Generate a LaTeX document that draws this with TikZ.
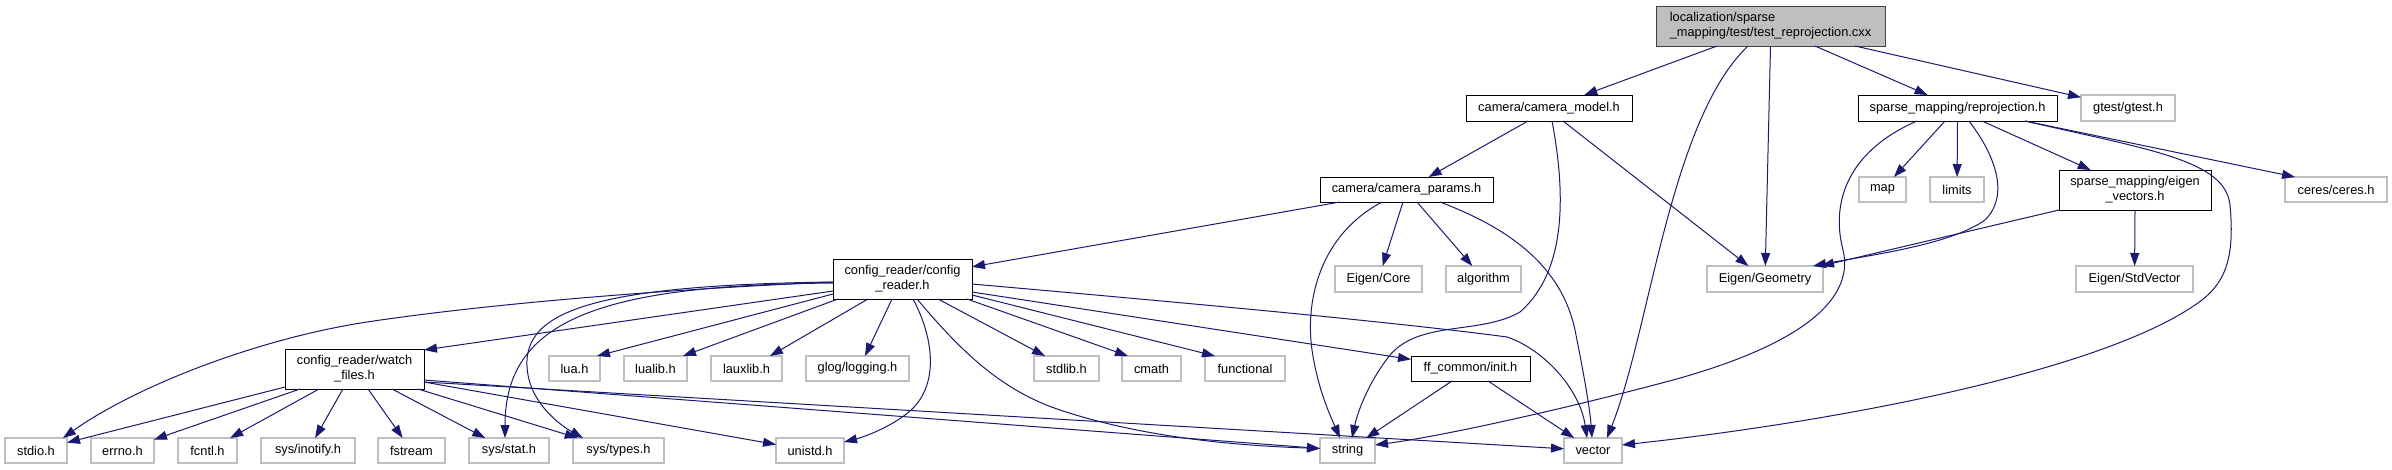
\documentclass[tikz,border=0pt]{standalone}
\usepackage{fontspec}
\setmainfont{Liberation Sans}
\usetikzlibrary{arrows.meta}
\definecolor{edgeblue}{HTML}{191970}
\definecolor{leafgray}{HTML}{BFBFBF}
\definecolor{mainfill}{HTML}{BFBFBF}
\definecolor{mainborder}{HTML}{404040}
\begin{document}
\begin{tikzpicture}[x=1pt,y=-1pt,
  every node/.style={font=\fontsize{12.8}{15}\selectfont, inner sep=0pt, outer sep=0pt},
  filebox/.style={draw=black, line width=1pt, fill=white, minimum height=26pt},
  leafbox/.style={draw=leafgray, line width=1.2pt, fill=white, minimum height=25pt},
  mainbox/.style={draw=mainborder, line width=1pt, fill=mainfill, align=left, minimum height=40pt},
  dep/.style={draw=edgeblue, line width=1pt, -{Triangle[length=13pt,width=9pt]}},
]
\useasboundingbox (0,0) rectangle (2392,469);

% row 0
\node[mainbox, minimum width=229pt] (nmain) at (1770.5,26) {localization/sparse\\\_mapping/test/test\_reprojection.cxx};
% row 1
\node[filebox, minimum width=166pt] (cammodel) at (1549,108) {camera/camera\_model.h};
\node[filebox, minimum width=199pt] (reproj) at (1957.5,108) {sparse\_mapping/reprojection.h};
\node[leafbox, minimum width=94pt, minimum height=26pt] (gtest) at (2128,108) {gtest/gtest.h};
% row 2
\node[filebox, minimum width=173pt, minimum height=25pt] (camparams) at (1406.5,189.5) {camera/camera\_params.h};
\node[leafbox, minimum width=47pt] (nmap) at (1882.5,189.5) {map};
\node[leafbox, minimum width=54pt] (nlimits) at (1957,189.5) {limits};
\node[filebox, minimum width=152pt, minimum height=40pt, align=center] (eigvec) at (2135,190) {sparse\_mapping/eigen\\\_vectors.h};
\node[leafbox, minimum width=102pt] (ceres) at (2336,189.5) {ceres/ceres.h};
% row 3
\node[filebox, minimum width=139pt, minimum height=40pt, align=center] (configreader) at (902.5,279) {config\_reader/config\\\_reader.h};
\node[leafbox, minimum width=87pt, minimum height=26pt] (eigencore) at (1378.5,279) {Eigen/Core};
\node[leafbox, minimum width=75pt, minimum height=26pt] (algorithm) at (1483.5,279) {algorithm};
\node[leafbox, minimum width=116pt, minimum height=26pt] (eigengeom) at (1765,279) {Eigen/Geometry};
\node[leafbox, minimum width=117pt, minimum height=26pt] (stdvector) at (2134.5,279) {Eigen/StdVector};
% row 4
\node[filebox, minimum width=139pt, minimum height=40pt, align=center] (watchfiles) at (354.5,369) {config\_reader/watch\\\_files.h};
\node[leafbox, minimum width=51pt] (lua) at (574.5,368.5) {lua.h};
\node[leafbox, minimum width=63pt] (lualib) at (655.5,368.5) {lualib.h};
\node[leafbox, minimum width=71pt] (lauxlib) at (746.5,368.5) {lauxlib.h};
\node[leafbox, minimum width=103pt] (glog) at (857.5,368.5) {glog/logging.h};
\node[leafbox, minimum width=65pt] (stdlib) at (1066.5,368.5) {stdlib.h};
\node[leafbox, minimum width=59pt] (cmath) at (1151.5,368.5) {cmath};
\node[leafbox, minimum width=80pt] (functional) at (1245,368.5) {functional};
\node[filebox, minimum width=119pt, minimum height=25pt] (init) at (1470.5,368.5) {ff\_common/init.h};
% row 5
\node[leafbox, minimum width=62pt] (stdio) at (36,450.5) {stdio.h};
\node[leafbox, minimum width=63pt] (errno) at (122.5,450.5) {errno.h};
\node[leafbox, minimum width=59pt] (fcntl) at (207.5,450.5) {fcntl.h};
\node[leafbox, minimum width=94pt] (inotify) at (308,450.5) {sys/inotify.h};
\node[leafbox, minimum width=67pt] (fstream) at (411.5,450.5) {fstream};
\node[leafbox, minimum width=80pt] (sysstat) at (509,450.5) {sys/stat.h};
\node[leafbox, minimum width=91pt] (systypes) at (618.5,450.5) {sys/types.h};
\node[leafbox, minimum width=68pt] (unistd) at (810,450.5) {unistd.h};
\node[leafbox, minimum width=55pt] (nstring) at (1347.5,450.5) {string};
\node[leafbox, minimum width=58pt] (nvector) at (1593,450.5) {vector};

% main
\draw[dep] ([xshift=-53.5pt]nmain.south) -- (cammodel);
\draw[dep] ([xshift=-22.5pt]nmain.south) .. controls (1670,120) and (1650,330) .. ([xshift=14pt]nvector.north);
\draw[dep] (nmain.south) -- (eigengeom);
\draw[dep] ([xshift=44.5pt]nmain.south) -- (reproj);
\draw[dep] ([xshift=84.5pt]nmain.south) -- (gtest);

% camera_model
\draw[dep] ([xshift=-21pt]cammodel.south) -- (camparams);
\draw[dep] ([xshift=3pt]cammodel.south) .. controls (1565,190) and (1568,270) .. (1520,312)
   .. controls (1480,335) and (1420,320) .. (1390,355)
   .. controls (1370,380) and (1358,410) .. ([xshift=4.5pt]nstring.north);
\draw[dep] ([xshift=14pt]cammodel.south) -- (eigengeom);

% reprojection
\draw[dep] ([xshift=-40.5pt]reproj.south) .. controls (1850,150) and (1830,200) .. (1843,250)
   .. controls (1855,300) and (1800,345) .. (1673,380)
   .. controls (1580,405) and (1450,435) .. ([yshift=5.5pt]nstring.east);
\draw[dep] ([xshift=-12.5pt]reproj.south) -- (nmap);
\draw[dep] (reproj.south) -- (nlimits);
\draw[dep] ([xshift=11.5pt]reproj.south) .. controls (1995,155) and (2010,195) .. (1985,220)
   .. controls (1950,245) and (1870,255) .. ([xshift=48pt]eigengeom.north);
\draw[dep] ([xshift=24.5pt]reproj.south) -- (eigvec);
\draw[dep] ([xshift=67.5pt]reproj.south) .. controls (2150,150) and (2225,160) .. (2230,205)
   .. controls (2235,260) and (2225,285) .. (2195,305)
   .. controls (2100,370) and (1850,420) .. ([yshift=5.5pt]nvector.east);
\draw[dep] ([xshift=67.5pt]reproj.south) -- ([xshift=-41pt]ceres.north);

% eigen_vectors
\draw[dep] (eigvec.south west) -- ([xshift=56pt]eigengeom.north);
\draw[dep] (eigvec.south) -- (stdvector);

% camera_params
\draw[dep] ([xshift=-66.5pt]camparams.south) -- (configreader);
\draw[dep] ([xshift=-24.5pt]camparams.south) .. controls (1320,235) and (1305,300) .. (1312,350)
   .. controls (1318,390) and (1330,415) .. ([xshift=-7.5pt]nstring.north);
\draw[dep] ([xshift=-3.5pt]camparams.south) -- (eigencore);
\draw[dep] ([xshift=10.5pt]camparams.south) -- (algorithm);
\draw[dep] ([xshift=33.5pt]camparams.south) .. controls (1500,225) and (1560,260) .. (1575,330)
   .. controls (1585,380) and (1590,410) .. ([xshift=-1pt]nvector.north);

% config_reader
\draw[dep] ([yshift=-12pt]configreader.west) -- ([yshift=-1pt]watchfiles.north east);
\draw[dep] ([yshift=-3pt]configreader.west) .. controls (650,290) and (480,305) .. (367,322)
   .. controls (250,340) and (130,390) .. ([xshift=27pt]stdio.north);
\draw[dep] ([yshift=-4pt]configreader.west) .. controls (600,285) and (505,320) .. ([xshift=-4pt]sysstat.north);
\draw[dep] ([yshift=-3pt]configreader.west) .. controls (600,285) and (530,310) .. (527,360)
   .. controls (525,400) and (560,425) .. ([xshift=-35.5pt]systypes.north);
\draw[dep] ([yshift=-15pt]configreader.west) -- ([xshift=-3pt]lua.north east);
\draw[dep] ([xshift=-64.5pt]configreader.south) -- ([xshift=27.5pt]lualib.north);
\draw[dep] ([xshift=-34.5pt]configreader.south) -- ([xshift=23.5pt]lauxlib.north);
\draw[dep] ([xshift=-10.5pt]configreader.south) -- ([xshift=7.5pt]glog.north);
\draw[dep] ([xshift=10.5pt]configreader.south) .. controls (935,340) and (940,390) .. (905,415)
   .. controls (885,430) and (860,438) .. ([yshift=-4pt]unistd.north east);
\draw[dep] ([xshift=14.5pt]configreader.south) .. controls (960,350) and (1000,390) .. (1060,410)
   .. controls (1150,440) and (1250,446) .. ([yshift=2pt]nstring.west);
\draw[dep] ([xshift=35.5pt]configreader.south) -- ([xshift=-21.5pt]stdlib.north);
\draw[dep] ([xshift=64.5pt]configreader.south) -- ([xshift=-23.5pt]cmath.north);
\draw[dep] ([yshift=-16pt]configreader.east) -- ([xshift=-30pt]functional.north);
\draw[dep] ([yshift=-13pt]configreader.east) -- (init);
\draw[dep] ([yshift=-5pt]configreader.east) .. controls (1130,298) and (1380,320) .. (1507,337)
   .. controls (1545,350) and (1580,390) .. ([xshift=-6pt]nvector.north);

% watch_files
\draw[dep] ([yshift=2pt]watchfiles.south west) -- (stdio);
\draw[dep] ([xshift=-54.5pt]watchfiles.south) -- (errno);
\draw[dep] ([xshift=-35.5pt]watchfiles.south) -- (fcntl);
\draw[dep] ([xshift=-11.5pt]watchfiles.south) -- (inotify);
\draw[dep] ([xshift=13.5pt]watchfiles.south) -- (fstream);
\draw[dep] ([xshift=37.5pt]watchfiles.south) -- (sysstat);
\draw[dep] ([xshift=63.5pt]watchfiles.south) -- (systypes);
\draw[dep] ([yshift=-13pt]watchfiles.east) -- (unistd);
\draw[dep] ([yshift=-11pt]watchfiles.east) -- (nstring);
\draw[dep] ([yshift=-13pt]watchfiles.east) -- (nvector);

% ff_common/init
\draw[dep] ([xshift=-18.5pt]init.south) -- (nstring);
\draw[dep] ([xshift=17.5pt]init.south) -- (nvector);
\end{tikzpicture}
\end{document}
